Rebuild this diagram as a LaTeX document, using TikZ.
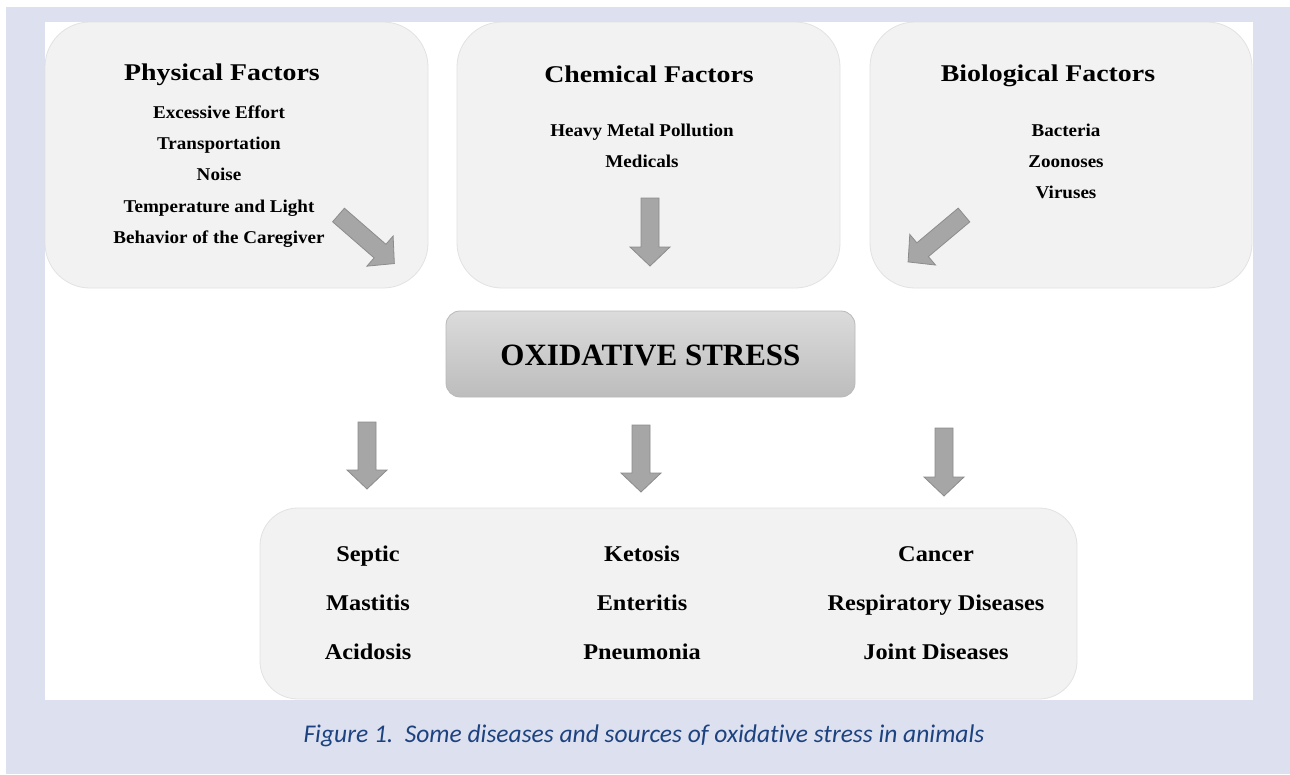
\documentclass[tikz,border=0pt]{standalone}
\usepackage{fontspec}
\setmainfont{Liberation Serif}
\newfontfamily\titlefont[FakeStretch=1.16]{Liberation Serif}
\newfontfamily\itemfont[FakeStretch=1.06]{Liberation Serif}
\newfontfamily\botfont[FakeStretch=1.08]{Liberation Serif}
\newfontfamily\capfont[Ligatures=CommonOff]{Carlito}
\definecolor{lav}{HTML}{DDE0EE}
\definecolor{boxfill}{HTML}{F2F2F2}
\definecolor{boxline}{HTML}{E2E2E2}
\definecolor{arrfill}{HTML}{A6A6A6}
\definecolor{arrline}{HTML}{8C8C8C}
\definecolor{capblue}{RGB}{28,66,128}
\tikzset{
  factorbox/.style={draw=boxline, fill=boxfill, line width=0.8pt, rounded corners=45pt, inner sep=0pt},
  oxibox/.style={draw=gray!55, top color=black!14, bottom color=black!26, line width=0.8pt, rounded corners=14pt, inner sep=0pt},
  ttl/.style={anchor=base, inner sep=0pt, font=\titlefont\bfseries\fontsize{24}{28}\selectfont},
  itm/.style={anchor=base, inner sep=0pt, font=\itemfont\bfseries\fontsize{18}{22}\selectfont},
  bot/.style={anchor=base, inner sep=0pt, font=\botfont\bfseries\fontsize{22.5}{26}\selectfont},
  pics/blockarrow/.style={code={
    \draw[fill=arrfill, draw=arrline, line width=0.8pt, line join=miter]
      (0,-9) -- (#1-19,-9) -- (#1-19,-20) -- (#1,0) -- (#1-19,20) -- (#1-19,9) -- (0,9) -- cycle;}}
}
\begin{document}
\begin{tikzpicture}[x=1pt,y=-1pt]
\useasboundingbox (0,0) rectangle (1290,774);
\fill[white] (0,0) rectangle (1290,774);
\fill[lav] (6,7) rectangle (1290,774);
\fill[white] (45,22) rectangle (1253,700);

% factor boxes
\node[factorbox, minimum width=383pt, minimum height=266pt] (phys) at (236.5,155) {};
\node[factorbox, minimum width=383pt, minimum height=266pt] (chem) at (648.5,155) {};
\node[factorbox, minimum width=382pt, minimum height=266pt] (bio) at (1061,155) {};
\node[oxibox, minimum width=409pt, minimum height=86pt] (oxi) at (650.5,354) {};
\node[factorbox, rounded corners=38pt, minimum width=817pt, minimum height=191pt] (dis) at (668.5,603.5) {};

% physical
\node[ttl] (physT) at (222,80) {Physical Factors};
\node[itm] (p1) at (219,118) {Excessive Effort};
\node[itm] (p2) at (219,149) {Transportation};
\node[itm] (p3) at (219,180) {Noise};
\node[itm] (p4) at (219,212) {Temperature and Light};
\node[itm] (p5) at (219,243) {Behavior of the Caregiver};
% chemical
\node[ttl] (chemT) at (649,82) {Chemical Factors};
\node[itm] (c1) at (642,136) {Heavy Metal Pollution};
\node[itm] (c2) at (642,167) {Medicals};
% biological
\node[ttl] (bioT) at (1048,81) {Biological Factors};
\node[itm] (b1) at (1066,136) {Bacteria};
\node[itm] (b2) at (1066,167) {Zoonoses};
\node[itm] (b3) at (1066,198) {Viruses};
% oxidative stress
\node[anchor=base, inner sep=0pt, font=\bfseries\fontsize{31}{34}\selectfont] (oxiT) at (650.5,365) {OXIDATIVE STRESS};
% diseases
\node[bot] (d1) at (368,561) {Septic};
\node[bot] (d2) at (368,610) {Mastitis};
\node[bot] (d3) at (368,659) {Acidosis};
\node[bot] (d4) at (642,561) {Ketosis};
\node[bot] (d5) at (642,610) {Enteritis};
\node[bot] (d6) at (642,659) {Pneumonia};
\node[bot] (d7) at (936,561) {Cancer};
\node[bot] (d8) at (936,610) {Respiratory Diseases};
\node[bot] (d9) at (936,659) {Joint Diseases};

% block arrows
\pic[rotate=-41] (aphys) at (338.5,215) {blockarrow=74};
\pic[rotate=-90] (achem) at (650,198) {blockarrow=68};
\pic[rotate=-140] (abio) at (964,215) {blockarrow=73};
\pic[rotate=-90] (ad1) at (367,422) {blockarrow=67};
\pic[rotate=-90] (ad2) at (641,425) {blockarrow=67};
\pic[rotate=-90] (ad3) at (944,428) {blockarrow=68};

% caption
\node[anchor=base, inner sep=0pt, text=capblue, font=\capfont\itshape\fontsize{25.5}{30}\selectfont] (cap) at (644,742) {Figure 1.\ \ Some diseases and sources of oxidative stress in animals};
\end{tikzpicture}
\end{document}
